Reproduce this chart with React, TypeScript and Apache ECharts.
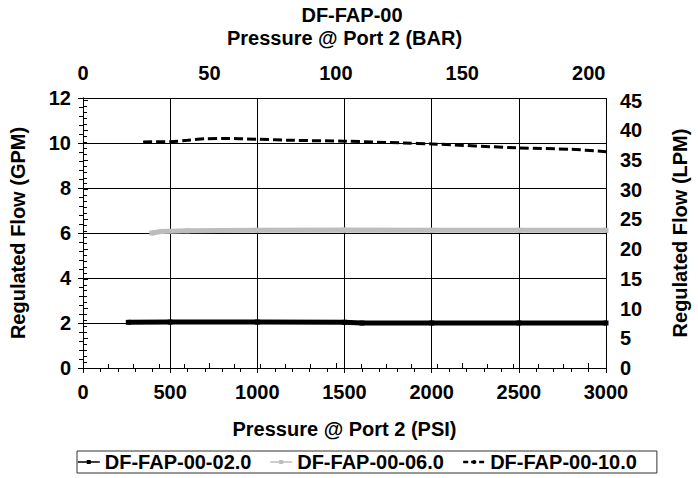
import React, { useEffect, useRef } from "react";
import * as echarts from "echarts";

const TITLE = "DF-FAP-00";
const TOP_AXIS_NAME = "Pressure @ Port 2 (BAR)";
const BOTTOM_AXIS_NAME = "Pressure @ Port 2 (PSI)";
const LEFT_AXIS_NAME = "Regulated Flow (GPM)";
const RIGHT_AXIS_NAME = "Regulated Flow (LPM)";

const PSI_PER_BAR = 14.5038;
const LPM_PER_GPM = 3.78541;
const PSI_MAX = 3000;
const GPM_MAX = 12;

const seriesNames = ["DF-FAP-00-02.0", "DF-FAP-00-06.0", "DF-FAP-00-10.0"];

const psi02 = [260, 500, 1000, 1500, 1600, 2000, 2500, 3000];
const gpm02 = [2.03, 2.04, 2.04, 2.03, 2.0, 2.0, 2.0, 2.0];

const psi06 = [395, 450, 600, 1000, 1500, 2000, 2500, 3000];
const gpm06 = [6.0, 6.07, 6.1, 6.12, 6.13, 6.12, 6.12, 6.12];

const psi10 = [345, 500, 600, 700, 800, 1000, 1200, 1500, 1840, 2000, 2500, 2800, 3000];
const gpm10 = [10.05, 10.06, 10.12, 10.19, 10.2, 10.17, 10.12, 10.08, 10.0, 9.96, 9.78, 9.72, 9.61];

const FONT = "Liberation Sans, Arial, sans-serif";
const FS = 20;

function pairs(x: number[], y: number[]) {
  return x.map((v, i) => [v, y[i]]);
}

export default function App() {
  const ref = useRef<HTMLDivElement>(null);
  useEffect(() => {
    if (!ref.current) return;
    const chart = echarts.init(ref.current, null, { renderer: "svg" });
    const txt = { color: "#000", fontWeight: "bold" as const, fontSize: FS, fontFamily: FONT };
    const barMax = PSI_MAX / PSI_PER_BAR;
    const lpmMax = GPM_MAX * LPM_PER_GPM;
    chart.setOption({
      animation: false,
      backgroundColor: "#fff",
      title: {
        text: TITLE,
        left: 347,
        textAlign: "center",
        top: 0,
        textStyle: { ...txt },
      },
      grid: { left: 82, right: 86, top: 98, bottom: 110, containLabel: false },
      legend: {
        left: 77,
        top: 451,
        orient: "horizontal",
        data: [
          { name: seriesNames[0], lineStyle: { width: 1.5, color: "#000", type: "solid" } },
          { name: seriesNames[1], lineStyle: { width: 1.5, color: "#bdbdbd", type: "solid" } },
          { name: seriesNames[2], lineStyle: { width: 2.5, color: "#000", type: [5, 3] } },
        ],
        borderColor: "#333",
        borderWidth: 1,
        borderRadius: 0,
        padding: [1, 20, 1, 0],
        itemGap: 18,
        itemWidth: 22,
        itemHeight: 5,
        textStyle: { ...txt },
      },
      xAxis: [
        {
          type: "value",
          position: "bottom",
          min: 0,
          max: PSI_MAX,
          interval: 500,
          name: BOTTOM_AXIS_NAME,
          nameLocation: "middle",
          nameGap: 51,
          nameTextStyle: { ...txt },
          axisLine: { show: true, lineStyle: { color: "#000", width: 1 } },
          axisTick: { show: true, length: 5, lineStyle: { color: "#000" } },
          minorTick: { show: true, splitNumber: 5, length: 4, lineStyle: { color: "#000" } },
          axisLabel: { ...txt, margin: 14, formatter: (v: number) => String(Math.round(v)) },
          splitLine: { show: true, lineStyle: { color: "#000", width: 1 } },
        },
        {
          type: "value",
          position: "top",
          min: 0,
          max: barMax,
          interval: 50,
          name: TOP_AXIS_NAME,
          nameLocation: "middle",
          nameGap: 50,
          nameTextStyle: { ...txt },
          axisLine: { show: true, lineStyle: { color: "#000", width: 1 } },
          axisTick: { show: true, length: 5, lineStyle: { color: "#000" } },
          minorTick: { show: true, splitNumber: 5, length: 4, lineStyle: { color: "#000" } },
          axisLabel: {
            ...txt,
            margin: 15,
            formatter: (v: number) => (Math.abs(v % 50) < 1e-6 ? String(Math.round(v)) : ""),
          },
          splitLine: { show: false },
        },
      ],
      yAxis: [
        {
          type: "value",
          position: "left",
          min: 0,
          max: GPM_MAX,
          interval: 2,
          name: LEFT_AXIS_NAME,
          nameLocation: "middle",
          nameGap: 55,
          nameTextStyle: { ...txt },
          axisLine: { show: true, lineStyle: { color: "#000", width: 1 } },
          axisTick: { show: true, length: 5, lineStyle: { color: "#000" } },
          minorTick: { show: true, splitNumber: 5, length: 4, lineStyle: { color: "#000" } },
          axisLabel: { ...txt, margin: 12 },
          splitLine: { show: true, lineStyle: { color: "#000", width: 1 } },
        },
        {
          type: "value",
          position: "right",
          min: 0,
          max: lpmMax,
          interval: 5,
          name: RIGHT_AXIS_NAME,
          nameLocation: "middle",
          nameGap: 64,
          nameTextStyle: { ...txt },
          axisLine: { show: true, lineStyle: { color: "#000", width: 1 } },
          axisTick: { show: true, length: 5, lineStyle: { color: "#000" } },
          minorTick: { show: true, splitNumber: 5, length: 4, lineStyle: { color: "#000" } },
          axisLabel: {
            ...txt,
            margin: 14,
            formatter: (v: number) => (Math.abs(v % 5) < 1e-6 ? String(Math.round(v)) : ""),
          },
          splitLine: { show: false },
        },
      ],
      series: [
        {
          name: seriesNames[0],
          type: "line",
          xAxisIndex: 0,
          yAxisIndex: 0,
          data: pairs(psi02, gpm02),
          symbol: "rect",
          symbolSize: 5,
          showSymbol: true,
          itemStyle: { color: "#000" },
          lineStyle: { color: "#000", width: 5 },
        },
        {
          name: seriesNames[1],
          type: "line",
          xAxisIndex: 0,
          yAxisIndex: 0,
          data: pairs(psi06, gpm06),
          symbol: "rect",
          symbolSize: 5,
          showSymbol: true,
          itemStyle: { color: "#bdbdbd" },
          lineStyle: { color: "#bdbdbd", width: 5 },
        },
        {
          name: seriesNames[2],
          type: "line",
          xAxisIndex: 0,
          yAxisIndex: 0,
          data: pairs(psi10, gpm10),
          symbol: "circle",
          symbolSize: 3,
          showSymbol: false,
          smooth: 0.3,
          itemStyle: { color: "#000" },
          lineStyle: { color: "#000", width: 3, type: [9, 4] },
        },
      ],
    });
    return () => chart.dispose();
  }, []);
  return <div ref={ref} style={{ width: 698, height: 478, position: "absolute", left: 0, top: 0 }} />;
}
